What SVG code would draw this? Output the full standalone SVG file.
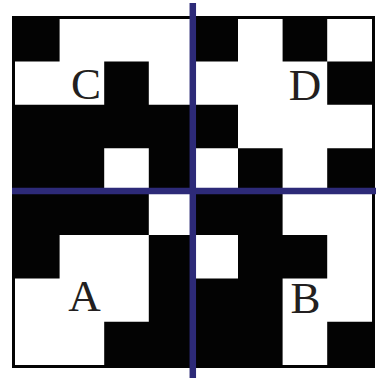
<svg xmlns="http://www.w3.org/2000/svg" width="376" height="378" viewBox="0 0 376 378">
<style>
.cells{fill:#030303}
.frame{fill:#ffffff;stroke:#030303;stroke-width:3}
.axis{stroke:#2d2a78;stroke-width:6.5;fill:none}
.lbl{font-family:"Liberation Serif","Times New Roman",serif;font-size:45px;fill:#231f20;text-anchor:middle}
</style>
<rect width="376" height="378" fill="#ffffff"/>
<g id="board">
<rect class="frame" x="13.5" y="17.5" width="360" height="349"/>
<path id="cells" class="cells" d="
M15 17h44.6v44.4h-44.6z M193.4 17h44.6v44.4h-44.6z M282.6 17h44.6v44.4h-44.6z
M104.2 61.4h44.6v43.4h-44.6z M327.2 61.4h45v43.4h-45z
M15 104.8h223v43.4h-223z
M15 148.2h89.2v43.4h-89.2z M148.8 148.2h44.6v43.4h-44.6z M238 148.2h44.6v43.4h-44.6z M327.2 148.2h45v43.4h-45z
M15 191.6h133.8v43.4h-133.8z M193.4 191.6h89.2v43.4h-89.2z
M15 235h44.6v43.4h-44.6z M148.8 235h44.6v43.4h-44.6z M238 235h89.2v43.4h-89.2z
M148.8 278.4h133.8v43.4h-133.8z
M104.2 321.8h178.4v43.7h-178.4z M327.2 321.8h45v43.7h-45z"/>
</g>
<g id="axes">
<line class="axis" x1="12" y1="191" x2="376" y2="191"/>
<line class="axis" x1="192.8" y1="3" x2="192.8" y2="378"/>
</g>
<g id="labels">
<text class="lbl" x="86" y="98.5">C</text>
<text class="lbl" x="305" y="99.5">D</text>
<text class="lbl" x="84.5" y="311">A</text>
<text class="lbl" x="305.5" y="312.5">B</text>
</g>
</svg>
